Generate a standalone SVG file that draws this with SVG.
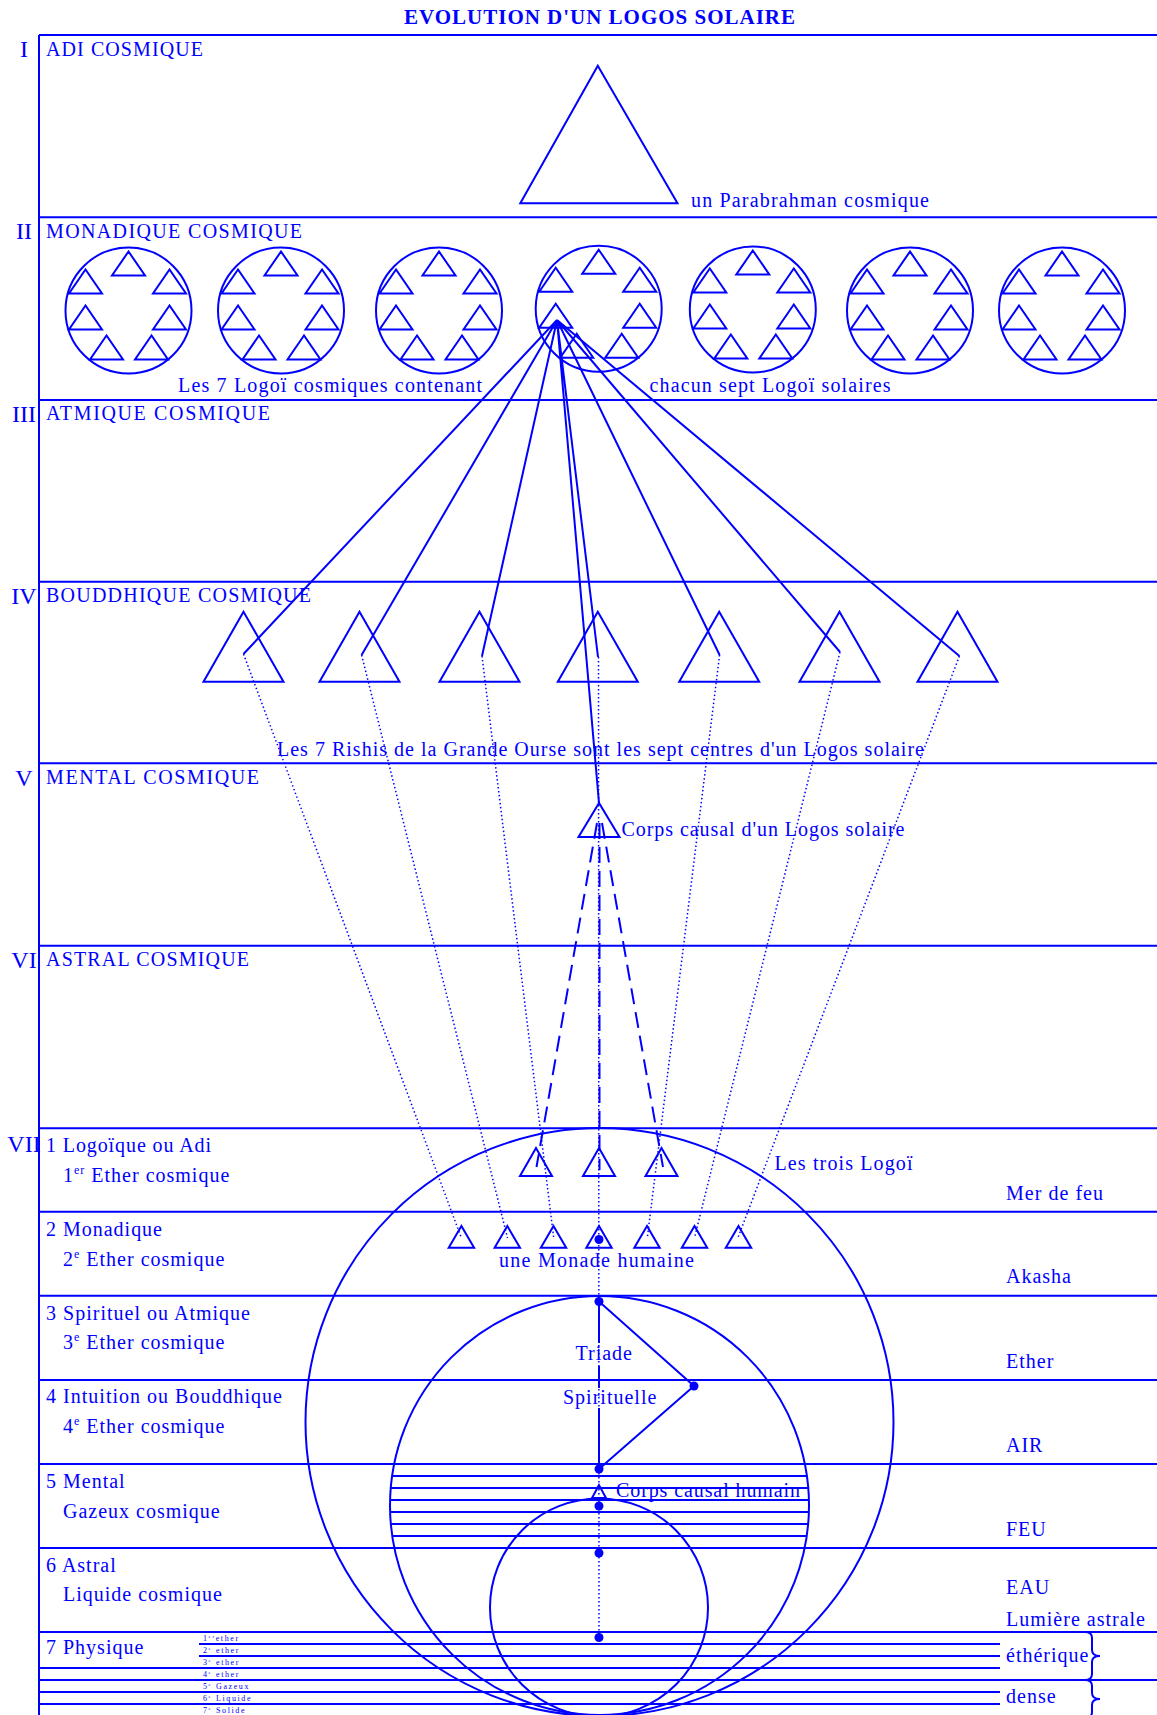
<svg xmlns="http://www.w3.org/2000/svg" width="1157" height="1715" viewBox="0 0 1157 1715">
<style>
text{font-family:"Liberation Serif","Times New Roman",serif;fill:#00f;font-size:20px;letter-spacing:1px}
.rn{font-size:24px;letter-spacing:0;text-anchor:middle}
.ttl{font-size:21px;font-weight:bold;text-anchor:middle}
.sm{font-size:8px;letter-spacing:1.6px}
.s{fill:none;stroke:#00f;stroke-width:2}
.dot{fill:none;stroke:#00f;stroke-width:1.5;stroke-dasharray:1.5 2.5}
.dash{fill:none;stroke:#00f;stroke-width:2;stroke-dasharray:16 8}
.pt{fill:#00f}
</style>
<defs>
<g id="cl">
<circle r="63" class="s"/>
<path class="s" d="M0,-59l-16.5,24h33z M-43,-41l-16.5,24h33z M41,-41l-16.5,24h33z M-43,-5l-16.5,24h33z M41,-5l-16.5,24h33z M-22,25l-16.5,24h33z M23,25l-16.5,24h33z"/>
</g>
</defs>
<rect width="1157" height="1715" fill="#fff"/>
<text class="ttl" x="600" y="24" textLength="392" lengthAdjust="spacing">EVOLUTION D'UN LOGOS SOLAIRE</text>

<g id="frame" class="s">
<path d="M39,35V1715 M39,35H1157 M39,217.3H1157 M39,400H1157 M39,581.7H1157 M39,763.3H1157 M39,945.7H1157 M39,1128.3H1157 M39,1211.7H1157 M39,1295.7H1157 M39,1380H1157 M39,1464H1157 M39,1548H1157 M39,1632H1157 M199,1644H1000 M199,1656H1000 M39,1668H1000 M39,1680H1157 M39,1692H1000 M39,1704H1000"/>
<path d="M1085,1632Q1092,1632 1092,1638L1092,1650Q1092,1656 1100,1656Q1092,1656 1092,1662L1092,1674Q1092,1680 1085,1680"/>
<path d="M1085,1680Q1092,1680 1092,1686L1092,1693Q1092,1699 1100,1699Q1092,1699 1092,1705L1092,1712Q1092,1718 1085,1718"/>
</g>

<g id="plane-labels">
<text class="rn" x="24" y="56.5">I</text>
<text class="rn" x="24" y="239">II</text>
<text class="rn" x="24" y="422">III</text>
<text class="rn" x="24" y="604">IV</text>
<text class="rn" x="24" y="785.5">V</text>
<text class="rn" x="24" y="967.5">VI</text>
<text class="rn" x="24" y="1152">VII</text>
<text x="46" y="55.5" textLength="158" lengthAdjust="spacing">ADI COSMIQUE</text>
<text x="46" y="237.8" textLength="257" lengthAdjust="spacing">MONADIQUE COSMIQUE</text>
<text x="46" y="420.3" textLength="225" lengthAdjust="spacing">ATMIQUE COSMIQUE</text>
<text x="46" y="602" textLength="266" lengthAdjust="spacing">BOUDDHIQUE COSMIQUE</text>
<text x="46" y="784" textLength="214" lengthAdjust="spacing">MENTAL COSMIQUE</text>
<text x="46" y="966" textLength="204" lengthAdjust="spacing">ASTRAL COSMIQUE</text>
<text x="46" y="1151.7" textLength="166" lengthAdjust="spacing">1 Logoïque ou Adi</text>
<text x="63" y="1181.7">1<tspan font-size="12" dy="-8">er</tspan><tspan dy="8"> Ether cosmique</tspan></text>
<text x="46" y="1235.5" textLength="117" lengthAdjust="spacing">2 Monadique</text>
<text x="63" y="1265.5">2<tspan font-size="12" dy="-8">e</tspan><tspan dy="8"> Ether cosmique</tspan></text>
<text x="46" y="1319.5" textLength="205" lengthAdjust="spacing">3 Spirituel ou Atmique</text>
<text x="63" y="1349">3<tspan font-size="12" dy="-8">e</tspan><tspan dy="8"> Ether cosmique</tspan></text>
<text x="46" y="1403.3" textLength="237" lengthAdjust="spacing">4 Intuition ou Bouddhique</text>
<text x="63" y="1433.3">4<tspan font-size="12" dy="-8">e</tspan><tspan dy="8"> Ether cosmique</tspan></text>
<text x="46" y="1487.5">5 Mental</text>
<text x="63" y="1517.5">Gazeux cosmique</text>
<text x="46" y="1571.5">6 Astral</text>
<text x="63" y="1601">Liquide cosmique</text>
<text x="46" y="1654">7 Physique</text>
<text class="sm" x="203" y="1640.5">1<tspan font-size="5" dy="-3">er</tspan><tspan dy="3">ether</tspan></text>
<text class="sm" x="203" y="1652.5">2<tspan font-size="5" dy="-3">e</tspan><tspan dy="3"> ether</tspan></text>
<text class="sm" x="203" y="1664.5">3<tspan font-size="5" dy="-3">e</tspan><tspan dy="3"> ether</tspan></text>
<text class="sm" x="203" y="1676.5">4<tspan font-size="5" dy="-3">e</tspan><tspan dy="3"> ether</tspan></text>
<text class="sm" x="203" y="1688.5">5<tspan font-size="5" dy="-3">e</tspan><tspan dy="3"> Gazeux</tspan></text>
<text class="sm" x="203" y="1700.5">6<tspan font-size="5" dy="-3">e</tspan><tspan dy="3"> Liquide</tspan></text>
<text class="sm" x="203" y="1712.5">7<tspan font-size="5" dy="-3">e</tspan><tspan dy="3"> Solide</tspan></text>
<text x="1006" y="1199.5" textLength="98" lengthAdjust="spacing">Mer de feu</text>
<text x="1006" y="1283">Akasha</text>
<text x="1006" y="1367.5">Ether</text>
<text x="1006" y="1452">AIR</text>
<text x="1006" y="1536">FEU</text>
<text x="1006" y="1594">EAU</text>
<text x="1006" y="1626" textLength="140" lengthAdjust="spacing">Lumière astrale</text>
<text x="1006" y="1661.5">éthérique</text>
<text x="1006" y="1703">dense</text>
</g>

<g id="parabrahman">
<path class="s" d="M597.8,65.7L520.3,203.3H677.5Z"/>
<text x="691" y="207" textLength="239" lengthAdjust="spacing">un Parabrahman cosmique</text>
</g>

<g id="cosmic-logoi">
<g id="cl1"><use href="#cl" x="128.5" y="310.5"/></g>
<g id="cl2"><use href="#cl" x="281" y="310.5"/></g>
<g id="cl3"><use href="#cl" x="439" y="310.5"/></g>
<g id="cl4"><use href="#cl" x="598.7" y="308.7"/></g>
<g id="cl5"><use href="#cl" x="752.8" y="309.5"/></g>
<g id="cl6"><use href="#cl" x="910" y="310.5"/></g>
<g id="cl7"><use href="#cl" x="1062" y="310.5"/></g>
<text x="178" y="391.5" textLength="305" lengthAdjust="spacing">Les 7 Logoï cosmiques contenant</text>
<text x="649.5" y="391.5" textLength="242" lengthAdjust="spacing">chacun sept Logoï solaires</text>
</g>

<g id="rishis" class="s">
<path id="r1" d="M243.5,611.7l-40,70h80z"/>
<path id="r2" d="M359.5,611.7l-40,70h80z"/>
<path id="r3" d="M479.5,611.7l-40,70h80z"/>
<path id="r4" d="M597.8,611.7l-40,70h80z"/>
<path id="r5" d="M719.2,611.7l-40,70h80z"/>
<path id="r6" d="M839.5,611.7l-40,70h80z"/>
<path id="r7" d="M957.5,611.7l-40,70h80z"/>
</g>
<text x="277" y="756" textLength="648" lengthAdjust="spacing">Les 7 Rishis de la Grande Ourse sont les sept centres d'un Logos solaire</text>

<g id="causal-logos">
<path class="s" d="M599,803l-20.5,34h41z"/>
<text x="621.5" y="835.5" textLength="284" lengthAdjust="spacing">Corps causal d'un Logos solaire</text>
</g>

<g id="circles" class="s">
<circle id="big" cx="599.5" cy="1422" r="294"/>
<circle id="middle" cx="599.5" cy="1505.5" r="209.5"/>
<circle id="small" cx="599" cy="1607.5" r="109"/>
</g>

<g id="mental-strata" class="s">
<path d="M392.1,1476H806.9 M390.7,1488H808.3 M390.1,1500H808.9 M390.1,1512H808.9 M390.8,1524H808.2 M392.2,1536H806.8"/>
</g>

<g id="trois-logoi">
<path class="s" d="M536,1148l-16,28h32z M599,1148l-16,28h32z M661.5,1148l-16,28h32z"/>
<text x="774.5" y="1170" textLength="139" lengthAdjust="spacing">Les trois Logoï</text>
</g>

<g id="monades">
<path class="s" d="M461.4,1226l-12.7,21.7h25.4z M507.3,1226l-12.7,21.7h25.4z M553.5,1226l-12.7,21.7h25.4z M599,1226l-12.7,21.7h25.4z M647,1226l-12.7,21.7h25.4z M694.5,1226l-12.7,21.7h25.4z M738.5,1226l-12.7,21.7h25.4z"/>
<text x="499" y="1266.5" textLength="196" lengthAdjust="spacing">une Monade humaine</text>
</g>

<g id="connectors">
<g class="s">
<path d="M557,320L243.5,654 M557,320L361.6,655 M557,320L482,656 M557,320L598,657 M557,320L719.6,655 M557,320L840,652 M557,320L959.4,656 M557,320L599,803"/>
</g>
<g class="dot">
<path d="M243.5,654L461.4,1238 M361.6,655L507.5,1238 M482,656L553.6,1237 M598.5,657L599,1637 M719.6,655L647.3,1238 M840,652L694.7,1237 M959.4,656L738.2,1237"/>
</g>
<g class="dash">
<path d="M597,823L536.5,1167 M602,823L663,1167 M599.5,823L599.5,1170"/>
</g>
<g class="s">
<path d="M599,1301.5L694,1386L599,1469 M599,1301.5V1343 M599,1366V1388 M599,1408V1469"/>
<path d="M599,1485l-7,13h14z"/>
</g>
<g class="pt">
<circle cx="599" cy="1239.5" r="4.5"/>
<circle cx="599" cy="1301.5" r="4.5"/>
<circle cx="694" cy="1386" r="4.5"/>
<circle cx="599" cy="1469" r="4.5"/>
<circle cx="599" cy="1506" r="4.5"/>
<circle cx="599" cy="1553" r="4.5"/>
<circle cx="599" cy="1637.5" r="4.5"/>
</g>
</g>

<g id="triade-labels">
<text x="575.5" y="1359.5">Triade</text>
<text x="563" y="1403.5">Spirituelle</text>
<text x="616" y="1496.5" textLength="185" lengthAdjust="spacing">Corps causal humain</text>
</g>
</svg>
